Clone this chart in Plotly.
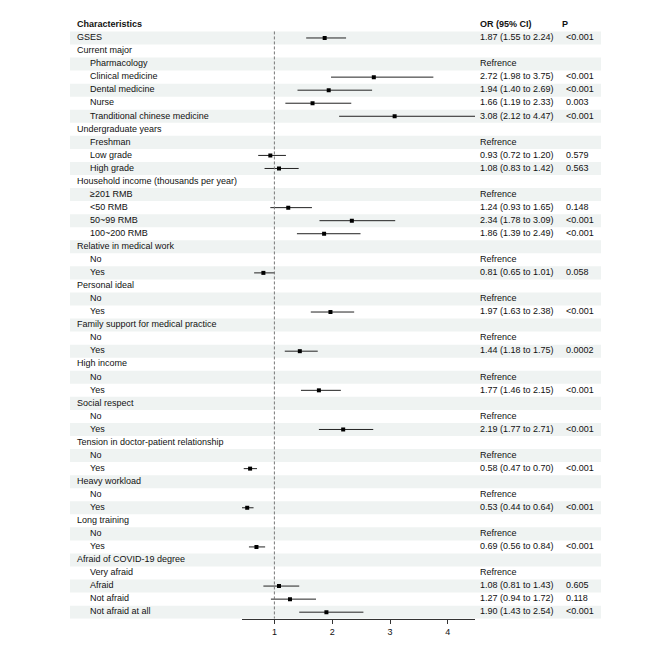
import plotly.graph_objects as go

# rows of the forest plot, top to bottom
labels = ["GSES", "Current major", "Pharmacology", "Clinical medicine", "Dental medicine", "Nurse",
          "Tranditional chinese medicine", "Undergraduate years", "Freshman", "Low grade", "High grade",
          "Household income (thousands per year)", "\u2265201 RMB", "<50 RMB", "50~99 RMB", "100~200 RMB",
          "Relative in medical work", "No", "Yes",
          "Personal ideal", "No", "Yes",
          "Family support for medical practice", "No", "Yes",
          "High income", "No", "Yes",
          "Social respect", "No", "Yes",
          "Tension in doctor-patient relationship", "No", "Yes",
          "Heavy workload", "No", "Yes",
          "Long training", "No", "Yes",
          "Afraid of COVID-19 degree", "Very afraid", "Afraid", "Not afraid", "Not afraid at all"]
level = [0, 0, 1, 1, 1, 1, 1, 0, 1, 1, 1, 0, 1, 1, 1, 1,
         0, 1, 1, 0, 1, 1, 0, 1, 1, 0, 1, 1, 0, 1, 1, 0, 1, 1, 0, 1, 1, 0, 1, 1,
         0, 1, 1, 1, 1]

N = None
odds = [1.87, N, N, 2.72, 1.94, 1.66, 3.08, N, N, 0.93, 1.08, N, N, 1.24, 2.34, 1.86,
        N, N, 0.81, N, N, 1.97, N, N, 1.44, N, N, 1.77, N, N, 2.19, N, N, 0.58,
        N, N, 0.53, N, N, 0.69, N, N, 1.08, 1.27, 1.90]
lower = [1.55, N, N, 1.98, 1.40, 1.19, 2.12, N, N, 0.72, 0.83, N, N, 0.93, 1.78, 1.39,
         N, N, 0.65, N, N, 1.63, N, N, 1.18, N, N, 1.46, N, N, 1.77, N, N, 0.47,
         N, N, 0.44, N, N, 0.56, N, N, 0.81, 0.94, 1.43]
upper = [2.24, N, N, 3.75, 2.69, 2.33, 4.47, N, N, 1.20, 1.42, N, N, 1.65, 3.09, 2.49,
         N, N, 1.01, N, N, 2.38, N, N, 1.75, N, N, 2.15, N, N, 2.71, N, N, 0.70,
         N, N, 0.64, N, N, 0.84, N, N, 1.43, 1.72, 2.54]
pvals = ["<0.001", "", "", "<0.001", "<0.001", "0.003", "<0.001", "", "", "0.579", "0.563", "", "",
         "0.148", "<0.001", "<0.001", "", "", "0.058", "", "", "<0.001", "", "", "0.0002", "", "",
         "<0.001", "", "", "<0.001", "", "", "<0.001", "", "", "<0.001", "", "", "<0.001", "", "",
         "0.605", "0.118", "<0.001"]
ref_rows = [3, 9, 13, 18, 21, 24, 27, 30, 33, 36, 39, 42]  # 1-based rows showing "Refrence"

rows = list(range(1, len(labels) + 1))
or_text = []
for i, r in enumerate(rows):
    if odds[i] is not None:
        or_text.append(f"{odds[i]:.2f} ({lower[i]:.2f} to {upper[i]:.2f})")
    elif r in ref_rows:
        or_text.append("Refrence")
    else:
        or_text.append("")

W, H = 669, 657
OFF = 8  # page margin around the plotly div
FONT = "Liberation Sans, Arial, sans-serif"
font = dict(family=FONT, size=9, color="#111")

fig = go.Figure()

# text columns (xaxis2 is in pixel units across the figure)
lab_x = [77 - OFF if lv == 0 else 90 - OFF for lv in level]
fig.add_trace(go.Scatter(x=lab_x, y=rows, text=labels, mode="text", textposition="middle right",
                         textfont=font, xaxis="x2", yaxis="y", hoverinfo="skip"))
fig.add_trace(go.Scatter(x=[480 - OFF] * len(rows), y=rows, text=or_text, mode="text",
                         textposition="middle right", textfont=font, xaxis="x2", yaxis="y",
                         hoverinfo="skip"))
fig.add_trace(go.Scatter(x=[566 - OFF] * len(rows), y=rows, text=pvals, mode="text",
                         textposition="middle right", textfont=font, xaxis="x2", yaxis="y",
                         hoverinfo="skip"))
# header
fig.add_trace(go.Scatter(x=[77 - OFF, 480 - OFF, 562 - OFF], y=[0, 0, 0],
                         text=["<b>Characteristics</b>", "<b>OR (95% CI)</b>", "<b>P</b>"],
                         mode="text", textposition="middle right", textfont=font,
                         xaxis="x2", yaxis="y", hoverinfo="skip"))

# CI + point estimate
xs = [o for o in odds if o is not None]
ys = [r for r, o in zip(rows, odds) if o is not None]
e_plus = [u - o for o, u in zip(odds, upper) if o is not None]
e_minus = [o - l for o, l in zip(odds, lower) if o is not None]
fig.add_trace(go.Scatter(x=xs, y=ys, mode="markers",
                         marker=dict(symbol="square", size=4, color="black"),
                         error_x=dict(type="data", array=e_plus, arrayminus=e_minus,
                                      width=0, thickness=1, color="#222"),
                         xaxis="x", yaxis="y", hoverinfo="skip"))

# alternating row shading (paper x so it sits under every subplot)
shapes = []
for r in rows:
    if r % 2 == 1:
        shapes.append(dict(type="rect", xref="paper", yref="y", x0=(70 - OFF) / W, x1=(601 - OFF) / W,
                           y0=r - 0.5, y1=r + 0.5, fillcolor="#eff3f2", line_width=0, layer="below"))
# reference line at OR = 1
shapes.append(dict(type="line", xref="x", yref="y", x0=1, x1=1, y0=0.5, y1=len(rows) + 0.5,
                   line=dict(color="#777", width=1, dash="3px,2px")))

y_top, y_bot = 18.4 - OFF, 618.7 - OFF
fig.update_layout(
    width=W, height=H, autosize=False,
    margin=dict(l=0, r=0, t=0, b=0),
    plot_bgcolor="rgba(0,0,0,0)", paper_bgcolor="white",
    showlegend=False, shapes=shapes,
    xaxis=dict(domain=[(242 - OFF) / W, (475 - OFF) / W], range=[0.44, 4.47], tickvals=[1, 2, 3, 4],
               ticks="outside", ticklen=4, tickcolor="#333", showline=True, linecolor="#333",
               linewidth=1, showgrid=False, zeroline=False, tickfont=font, anchor="y"),
    xaxis2=dict(domain=[0, 1], range=[0, W], visible=False, anchor="y"),
    yaxis=dict(domain=[(H - y_bot) / H, (H - y_top) / H], range=[len(rows) + 0.5, -0.5],
               visible=False),
)

fig.write_html("out.html")
